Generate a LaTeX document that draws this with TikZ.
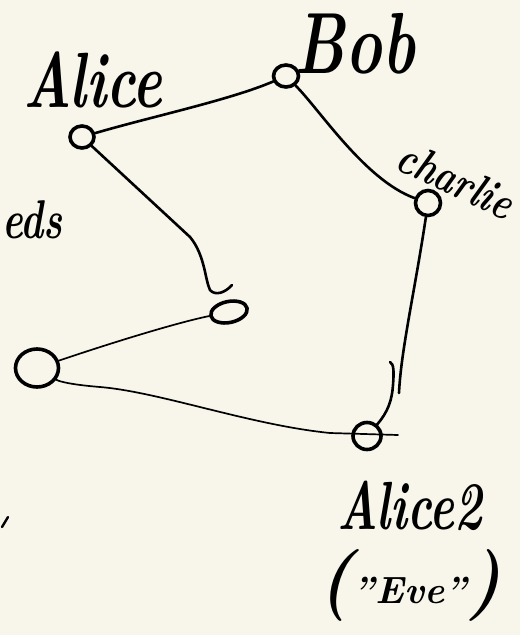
\documentclass[tikz,border=0pt]{standalone}
\usepackage{graphicx}
\usetikzlibrary{shapes.geometric}
\definecolor{paper}{RGB}{248,246,234}
\begin{document}
\begin{tikzpicture}[x=1pt,y=-1pt,line cap=round,line join=round,
  vtx/.style={draw,ellipse,line width=3.6pt,inner sep=0pt},
  edge/.style={line width=2.6pt},
  thinedge/.style={line width=1.7pt},
  lbl/.style={font=\bfseries\itshape,inner sep=0pt}]
\fill[paper] (0,0) rectangle (520,635);
\useasboundingbox (0,0) rectangle (520,635);
% vertices
\node[vtx,minimum width=24pt,minimum height=22pt] (alice) at (82,137) {};
\node[vtx,minimum width=25pt,minimum height=22pt] (bob) at (286,76) {};
\node[vtx,minimum width=25pt,minimum height=25pt] (charlie) at (428,203) {};
\node[vtx,minimum width=37pt,minimum height=21pt,rotate=12] (mid) at (229,312) {};
\node[vtx,minimum width=43pt,minimum height=38pt] (left) at (37,368) {};
\node[vtx,minimum width=28pt,minimum height=27pt] (alice2) at (367,436) {};
% free ends
\coordinate (hookend) at (232,285);
\coordinate (ctail) at (399,393);
\coordinate (hk) at (390,362);
\coordinate (a2tail) at (398,435);
\coordinate (tickA) at (8,517);
\coordinate (tickB) at (2,527);
% connectors
\draw[edge] (alice) .. controls (150,117) and (230,100) .. (bob);
\draw[edge] (bob) .. controls (320,110) and (365,180) .. (charlie);
\draw[edge] (charlie) .. controls (415,290) and (401,350) .. (ctail);
\draw[edge] (hk) .. controls (394,364) and (394,372) .. (393,385)
  .. controls (392,400) and (388,412) .. (alice2);
\draw[thinedge] (a2tail) -- (330,433) .. controls (250,425) and (160,392) .. (100,387)
  .. controls (75,385) and (60,382) .. (left);
\draw[thinedge] (left) .. controls (120,340) and (180,322) .. (mid);
\draw[edge] (alice) -- (190,237) .. controls (205,255) and (205,280) .. (210,290)
  .. controls (215,296) and (225,293) .. (hookend);
\draw[line width=2.4pt] (tickA) -- (tickB);
% labels
\node[lbl] (tAlice) at (93,80) {\fontsize{56}{60}\selectfont\scalebox{1}[1.4]{Alice}};
\node[lbl] (tBob) at (355,44) {\fontsize{62}{70}\selectfont\scalebox{1}[1.4]{Bob}};
\node[lbl,rotate=-25] (tCharlie) at (456,180) {\fontsize{36}{40}\selectfont\scalebox{1}[1.3]{charlie}};
\node[lbl] (tAlice2) at (410,506) {\fontsize{47}{52}\selectfont\scalebox{1}[1.45]{Alice2}};
\node[lbl] (tEve) at (410,585) {{\fontsize{72}{76}\selectfont(}{\fontsize{38}{44}\selectfont"Eve"}{\fontsize{72}{76}\selectfont)}};
\node[lbl,anchor=base east] (tEds) at (63,238) {\fontsize{39}{44}\selectfont\scalebox{1}[1.4]{eds}};
\end{tikzpicture}
\end{document}
